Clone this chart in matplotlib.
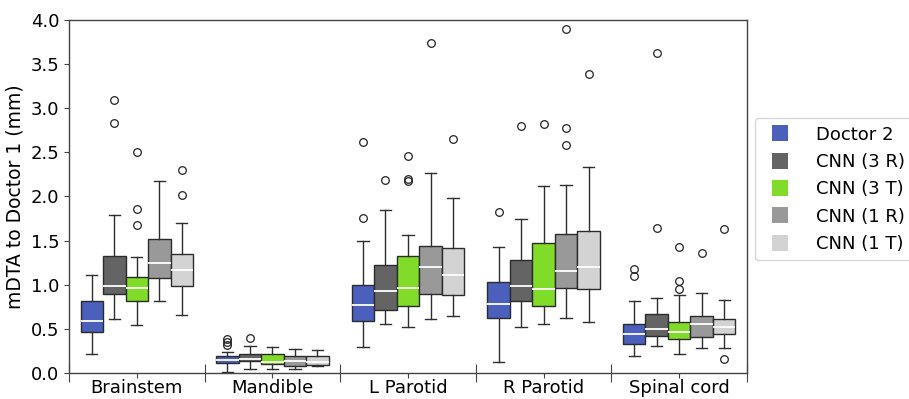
import matplotlib
matplotlib.use("Agg")
import matplotlib.pyplot as plt
from matplotlib.lines import Line2D

categories = ["Brainstem", "Mandible", "L Parotid", "R Parotid", "Spinal cord"]
series = ["Doctor 2", "CNN (3 R)", "CNN (3 T)", "CNN (1 R)", "CNN (1 T)"]
colors = ["#4b5fbd", "#646464", "#80dc28", "#999999", "#d2d3d2"]

# per series, per category: [whislo, q1, median, q3, whishi]
doctor2 = [[0.22, 0.46, 0.59, 0.81, 1.11],
           [0.01, 0.11, 0.15, 0.19, 0.24],
           [0.29, 0.59, 0.77, 1.00, 1.49],
           [0.12, 0.62, 0.78, 1.03, 1.43],
           [0.19, 0.33, 0.44, 0.55, 0.82]]
cnn3r = [[0.61, 0.89, 0.99, 1.33, 1.79],
         [0.05, 0.14, 0.16, 0.21, 0.30],
         [0.56, 0.71, 0.93, 1.22, 1.84],
         [0.52, 0.81, 0.99, 1.28, 1.74],
         [0.31, 0.42, 0.50, 0.67, 0.85]]
cnn3t = [[0.54, 0.82, 0.96, 1.09, 1.31],
         [0.05, 0.10, 0.13, 0.21, 0.29],
         [0.52, 0.76, 0.96, 1.32, 1.56],
         [0.56, 0.76, 0.95, 1.47, 2.12],
         [0.22, 0.39, 0.46, 0.58, 0.88]]
cnn1r = [[0.82, 1.08, 1.24, 1.52, 2.17],
         [0.04, 0.08, 0.14, 0.19, 0.27],
         [0.61, 0.89, 1.20, 1.44, 2.26],
         [0.62, 0.96, 1.16, 1.57, 2.13],
         [0.28, 0.41, 0.55, 0.64, 0.90]]
cnn1t = [[0.66, 0.99, 1.17, 1.35, 1.70],
         [0.08, 0.09, 0.13, 0.19, 0.26],
         [0.64, 0.88, 1.11, 1.41, 1.98],
         [0.58, 0.95, 1.20, 1.61, 2.33],
         [0.28, 0.44, 0.52, 0.61, 0.83]]

doctor2_fliers = [[], [0.38, 0.35, 0.32], [2.61, 1.76], [1.82], [1.18, 1.10]]
cnn3r_fliers = [[3.09, 2.83], [0.40], [2.19], [2.80], [3.62, 1.64]]
cnn3t_fliers = [[2.50, 1.86, 1.68], [], [2.46, 2.20, 2.17], [2.82], [1.43, 1.04, 0.95]]
cnn1r_fliers = [[], [], [3.74], [3.90, 2.77, 2.58], [1.36]]
cnn1t_fliers = [[2.30, 2.02], [], [2.65], [3.39], [1.63, 0.16]]

all_stats = [doctor2, cnn3r, cnn3t, cnn1r, cnn1t]
all_fliers = [doctor2_fliers, cnn3r_fliers, cnn3t_fliers, cnn1r_fliers, cnn1t_fliers]

fig = plt.figure(figsize=(9.09, 3.99), dpi=100)
ax = fig.add_axes([0.0759, 0.0652, 0.7459, 0.8854])

bw = 0.166
n = len(series)
for si in range(n):
    stats = []
    for ci in range(len(categories)):
        lo, q1, med, q3, hi = all_stats[si][ci]
        stats.append(dict(whislo=lo, q1=q1, med=med, q3=q3, whishi=hi,
                          fliers=all_fliers[si][ci]))
    pos = [ci + (si - (n - 1) / 2) * bw for ci in range(len(categories))]
    ax.bxp(stats, positions=pos, widths=bw, patch_artist=True, manage_ticks=False,
           boxprops=dict(facecolor=colors[si], edgecolor="#2b2b2b", linewidth=1.0),
           medianprops=dict(color="white", linewidth=1.3),
           whiskerprops=dict(color="#2e2e2e", linewidth=1.0),
           capprops=dict(color="#2e2e2e", linewidth=1.0),
           flierprops=dict(marker="o", markerfacecolor="none", markeredgecolor="#222222",
                           markersize=5.5, markeredgewidth=0.9))

ax.set_xlim(-0.5, 4.5)
ax.set_ylim(0, 4.0)
ax.set_yticks([0, 0.5, 1.0, 1.5, 2.0, 2.5, 3.0, 3.5, 4.0])
ax.set_yticklabels(["0.0", "0.5", "1.0", "1.5", "2.0", "2.5", "3.0", "3.5", "4.0"])
ax.set_xticks(range(len(categories)))
ax.set_xticklabels(categories)
ax.set_xticks([i - 0.5 for i in range(len(categories) + 1)], minor=True)
ax.tick_params(axis="x", which="major", length=3.5, width=0.8, pad=0.8,
               labelsize=13, color="#444444")
ax.tick_params(axis="x", which="minor", direction="inout", length=13, width=0.8, color="#444444")
ax.tick_params(axis="y", length=3.5, width=0.8, labelsize=13, color="#444444")
ax.set_ylabel("mDTA to Doctor 1 (mm)", fontsize=13.5)
for sp in ax.spines.values():
    sp.set_color("#444444")
    sp.set_linewidth(1.0)

handles = [Line2D([], [], linestyle="none", marker="s", markersize=11.5,
                  markerfacecolor=c, markeredgewidth=0) for c in colors]
ax.legend(handles, series, loc="center left", bbox_to_anchor=(1.0115, 0.52),
          borderaxespad=0, fontsize=13, labelspacing=0.52, handletextpad=1.0)

fig.savefig("out.png", dpi=100)
